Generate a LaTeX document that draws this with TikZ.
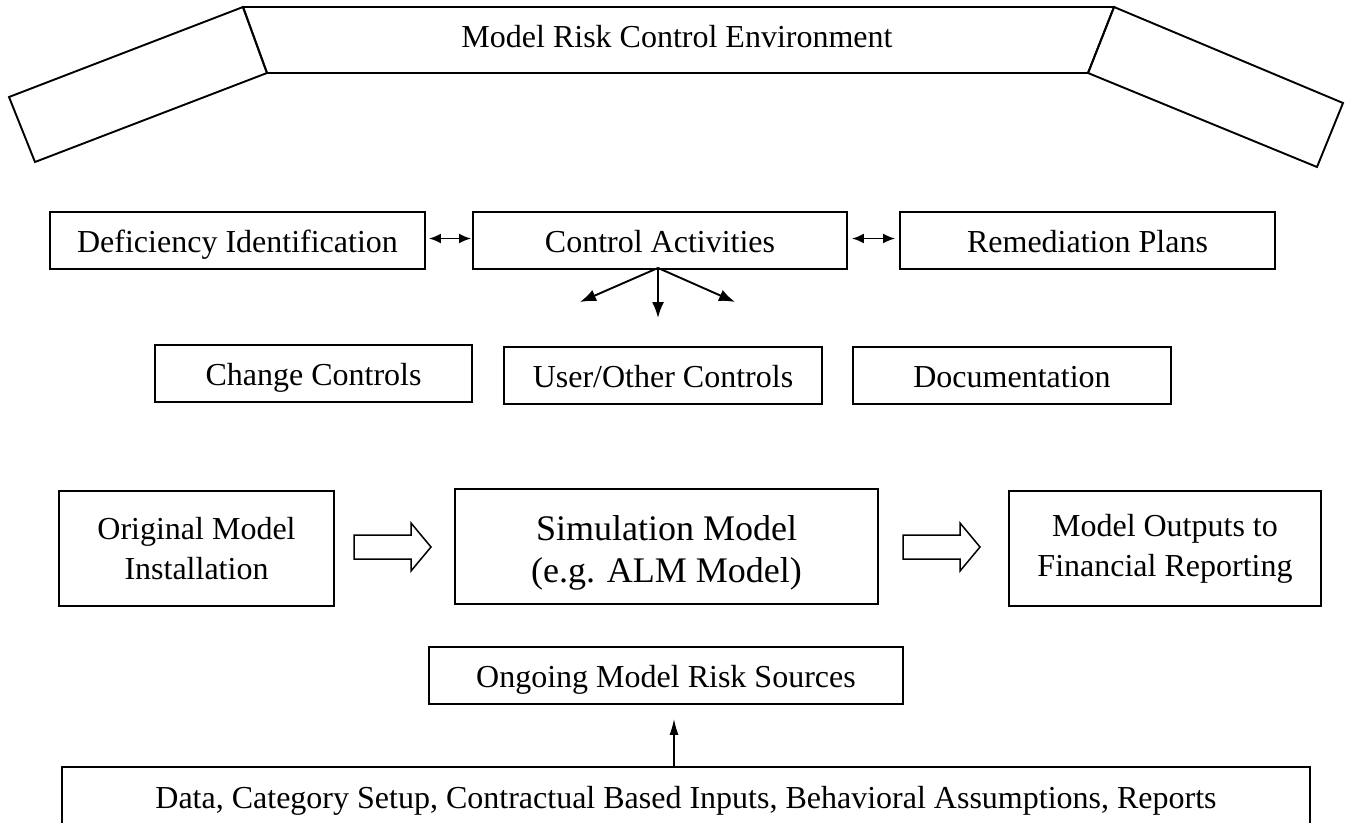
\documentclass[tikz,border=0pt]{standalone}
\usepackage{fontspec}
\setmainfont{Liberation Serif}
\usetikzlibrary{arrows.meta}
\begin{document}
\begin{tikzpicture}[x=1pt,y=-1pt,
  every node/.style={font=\fontsize{32}{40}\selectfont},
  outline/.style={draw, line width=1.9pt, line join=miter},
  box/.style={outline, inner sep=0pt, align=center, minimum height=57pt,
              text height=23pt, text depth=0pt},
  tallbox/.style={outline, inner sep=0pt, align=center, minimum height=115pt},
  link/.style={line width=1.9pt, -{Latex[length=16pt,width=12pt]}},
  duallink/.style={line width=1.9pt, {Latex[length=12pt,width=10pt]}-{Latex[length=12pt,width=10pt]}},
  feed/.style={line width=1.3pt, -{Latex[length=16pt,width=9pt]}},
  blockarrow/.pic={
    \draw[line width=1.5pt, line join=miter]
      (0,-12) -- (57,-12) -- (57,-24) -- (77,0) -- (57,24) -- (57,12) -- (0,12) -- cycle;
  }]
\useasboundingbox (0,0) rectangle (1351,822);
\clip (0,0) rectangle (1351,822);

% banner: centre panel with two slanted wings
\draw[outline] (243,7) -- (1114,7) -- (1088,73) -- (267,73) -- cycle;
\draw[outline] (243,7) -- (267,73) -- (35,162) -- (9,97) -- cycle;
\draw[outline] (1114,7) -- (1343,103) -- (1317,167) -- (1088,73) -- cycle;
\node (env) at (677,37) {Model Risk Control Environment};

% control row
\node[box, minimum width=375pt] (def) at (237.5,240.5) {Deficiency Identification};
\node[box, minimum width=374pt] (ctl) at (660,240.5) {Control Activities};
\node[box, minimum width=375pt] (rem) at (1087.5,240.5) {Remediation Plans};

\draw[duallink] ([xshift=3pt,yshift=2pt]def.east) -- ([xshift=-1pt,yshift=2pt]ctl.west);
\draw[duallink] ([xshift=4pt,yshift=2pt]ctl.east) -- ([xshift=-4pt,yshift=2pt]rem.west);

% control types
\node[box, minimum width=317pt] (chg) at (313.5,373.5) {Change Controls};
\node[box, minimum width=318pt] (usr) at (663,375.5) {User/Other Controls};
\node[box, minimum width=318pt] (doc) at (1012,375.5) {Documentation};

\coordinate (fork) at ([xshift=-2pt,yshift=2pt]ctl.south);
\coordinate (tipl) at (580,302);
\coordinate (tipm) at (658,318);
\coordinate (tipr) at (735,302);
\draw[link] (fork) -- (tipl);
\draw[link] (fork) -- (tipm);
\draw[link] (fork) -- (tipr);

% model flow
\node[tallbox, minimum width=275pt] (orig) at (196.5,548.5) {Original Model\\Installation};
\node[tallbox, minimum width=423pt] (sim) at (666.5,546.5) {};
\node[align=center, font=\fontsize{36}{42}\selectfont] (simtext) at ([yshift=-6pt]sim.center) {Simulation Model\\(e.g. ALM Model)};
\node[tallbox, minimum width=312pt] (out) at (1165,548.5) {Model Outputs to\\Financial Reporting};

\pic at (354,547) {blockarrow};
\pic at (903,547) {blockarrow};

% risk sources
\node[box, minimum width=474pt] (ong) at (666,675.5) {Ongoing Model Risk Sources};
\node[box, minimum width=1248pt, minimum height=60pt] (src) at (686,797) {Data, Category Setup, Contractual Based Inputs, Behavioral Assumptions, Reports};

\coordinate (feedx) at (674,0);
\draw[feed, shorten >=14pt] (src.north -| feedx) -- (ong.south -| feedx);
\end{tikzpicture}
\end{document}
